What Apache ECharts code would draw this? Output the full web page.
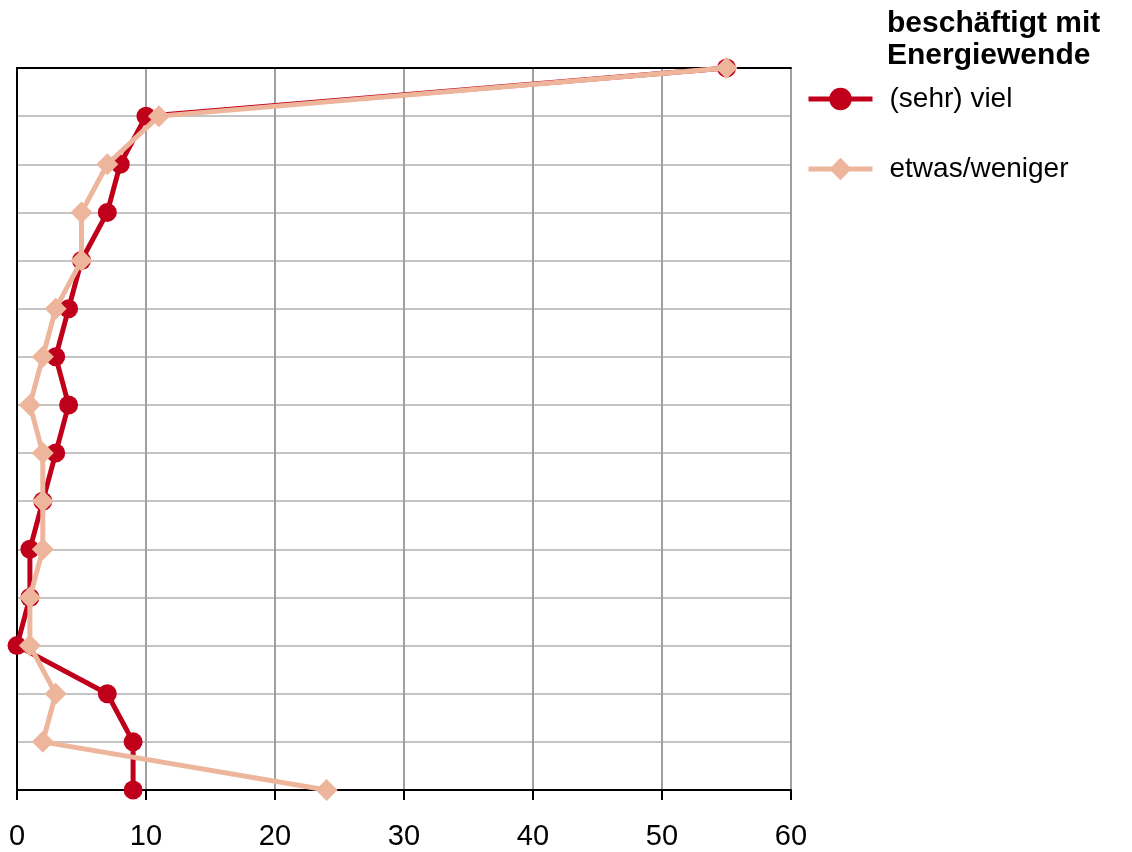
<!DOCTYPE html>
<html><head><meta charset="utf-8">
<script src="https://cdn.jsdelivr.net/npm/echarts@6/dist/echarts.min.js"></script>
<style>html,body{margin:0;padding:0;background:#fff}#c{width:1132px;height:852px}</style>
</head><body><div id="c"></div>
<script>
const categories = ['1','2','3','4','5','6','7','8','9','10','11','12','13','14','15','16'];
const sehrViel = [55,10,8,7,5,4,3,4,3,2,1,1,0,7,9,9];
const etwasWeniger = [55,11,7,5,5,3,2,1,2,2,2,1,1,3,2,24];
const xTicks = [0,10,20,30,40,50,60];
const legendTitle = 'beschäftigt mit\nEnergiewende';

const font = 'Liberation Sans, Arial, sans-serif';
const frameAxis = {show: true, lineStyle: {color: '#000', width: 2}};
const chart = echarts.init(document.getElementById('c'));
chart.setOption({
  animation: false,
  backgroundColor: '#fff',
  title: {
    text: legendTitle, left: 887, top: 8, padding: 0,
    textStyle: {fontFamily: font, fontSize: 30, fontWeight: 'bold', color: '#000', lineHeight: 32}
  },
  legend: {
    orient: 'vertical', left: 806, top: 85, padding: 0, itemWidth: 64, itemHeight: 28, itemGap: 42,
    lineStyle: {width: 5},
    textStyle: {fontFamily: font, fontSize: 28, color: '#000', padding: [0,0,0,12]},
    data: ['(sehr) viel', 'etwas/weniger']
  },
  grid: {left: 17, right: 341, top: 68, bottom: 62, containLabel: false},
  xAxis: [{
    type: 'value', min: xTicks[0], max: xTicks[xTicks.length-1], interval: 10,
    axisLine: frameAxis,
    axisTick: {show: true, length: 10, lineStyle: {color: '#000', width: 2}},
    axisLabel: {fontFamily: font, fontSize: 29, color: '#000', margin: 32},
    splitLine: {show: true, lineStyle: {color: '#a0a0a0', width: 2}}
  }, {
    type: 'value', position: 'top', min: xTicks[0], max: xTicks[xTicks.length-1], interval: 10,
    axisLine: frameAxis, axisTick: {show: false}, axisLabel: {show: false}, splitLine: {show: false}
  }],
  yAxis: [{
    type: 'category', data: categories, inverse: true, boundaryGap: false,
    axisLine: frameAxis,
    axisTick: {show: false},
    axisLabel: {show: false},
    splitLine: {show: true, lineStyle: {color: '#c4c4c4', width: 2}}
  }, {
    type: 'category', data: categories, inverse: true, boundaryGap: false, position: 'right',
    axisLine: frameAxis, axisTick: {show: false}, axisLabel: {show: false}, splitLine: {show: false}
  }],
  series: [
    {name: '(sehr) viel', type: 'line', data: sehrViel, symbol: 'circle', symbolSize: 19,
     lineStyle: {color: '#c0001a', width: 5}, itemStyle: {color: '#c0001a'}, z: 2},
    {name: 'etwas/weniger', type: 'line', data: etwasWeniger, symbol: 'diamond', symbolSize: 22,
     lineStyle: {color: '#edb69c', width: 5}, itemStyle: {color: '#edb69c'}, z: 3}
  ]
});
</script></body></html>
